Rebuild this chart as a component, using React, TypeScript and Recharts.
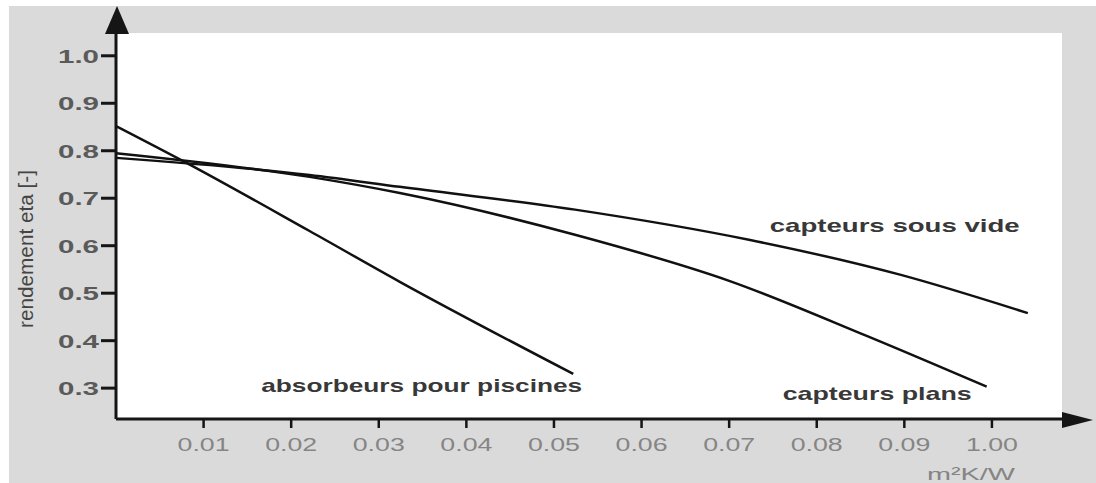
import React from "react";
import {
  LineChart,
  Line,
  XAxis,
  YAxis,
  CartesianGrid,
  ReferenceDot,
} from "recharts";

// axis ticks
const xTicks = [0.01, 0.02, 0.03, 0.04, 0.05, 0.06, 0.07, 0.08, 0.09, 0.1];
const xTickLabels = ["0.01", "0.02", "0.03", "0.04", "0.05", "0.06", "0.07", "0.08", "0.09", "1.00"];
const yTicks = [0.3, 0.4, 0.5, 0.6, 0.7, 0.8, 0.9, 1.0];
const yTickLabels = ["0.3", "0.4", "0.5", "0.6", "0.7", "0.8", "0.9", "1.0"];

// efficiency curves (x = m²K/W, y = rendement)
const absorbeurs = [
  { x: 0, y: 0.852 },
  { x: 0.0081, y: 0.774 },
  { x: 0.0221, y: 0.631 },
  { x: 0.0324, y: 0.524 },
  { x: 0.0522, y: 0.33 },
];
const capteursPlans = [
  { x: 0, y: 0.795 },
  { x: 0.0221, y: 0.745 },
  { x: 0.0324, y: 0.711 },
  { x: 0.0524, y: 0.623 },
  { x: 0.07, y: 0.526 },
  { x: 0.0857, y: 0.41 },
  { x: 0.0994, y: 0.303 },
];
const capteursSousVide = [
  { x: 0, y: 0.785 },
  { x: 0.0221, y: 0.749 },
  { x: 0.0324, y: 0.724 },
  { x: 0.0524, y: 0.676 },
  { x: 0.0724, y: 0.612 },
  { x: 0.0895, y: 0.539 },
  { x: 0.1041, y: 0.458 },
];

const curveNames = ["capteurs sous vide", "absorbeurs pour piscines", "capteurs plans"];
const curveLabelAt = [
  { x: 0.0889, y: 0.629 },
  { x: 0.0349, y: 0.292 },
  { x: 0.0869, y: 0.275 },
];
const curveLabelWidth = [250, 321, 189];

const FONT = "'Liberation Sans', Arial, Helvetica, sans-serif";

const XTick = (props: any) => {
  const { x, y, payload } = props;
  const i = xTicks.findIndex((t) => Math.abs(t - payload.value) < 1e-9);
  return (
    <text
      x={x}
      y={y}
      dy={21}
      textAnchor="middle"
      fontFamily={FONT}
      fontSize={19}
      fill="#858585"
      textLength={52}
      lengthAdjust="spacingAndGlyphs"
    >
      {xTickLabels[i]}
    </text>
  );
};

const YTick = (props: any) => {
  const { x, y, payload } = props;
  const i = yTicks.findIndex((t) => Math.abs(t - payload.value) < 1e-9);
  return (
    <text
      x={x}
      y={y}
      dy={7}
      textAnchor="end"
      fontFamily={FONT}
      fontSize={19}
      fontWeight="bold"
      fill="#5a5a5a"
      textLength={41}
      lengthAdjust="spacingAndGlyphs"
    >
      {yTickLabels[i]}
    </text>
  );
};

const curveLabel = (i: number) => (props: any) => {
  const vb = props.viewBox || {};
  const cx = vb.x + (vb.width || 0) / 2;
  const cy = vb.y + (vb.height || 0) / 2;
  return (
    <text
      x={cx}
      y={cy}
      textAnchor="middle"
      fontFamily={FONT}
      fontSize={19}
      fontWeight="bold"
      fill="#383838"
      textLength={curveLabelWidth[i]}
      lengthAdjust="spacingAndGlyphs"
    >
      {curveNames[i]}
    </text>
  );
};

export default function App() {
  return (
    <div
      style={{
        position: "absolute",
        left: 0,
        top: 0,
        width: 1096,
        height: 483,
        background: "#fff",
      }}
    >
      <div
        style={{
          position: "absolute",
          left: 9,
          top: 6,
          right: 0,
          bottom: 0,
          background: "#dadada",
        }}
      />
      <div style={{ position: "absolute", left: 0, top: 0 }}>
        <LineChart
          width={1096}
          height={483}
          margin={{ top: 33, right: 34, left: 16, bottom: 24 }}
        >
          <CartesianGrid horizontal={false} vertical={false} fill="#ffffff" />
          <XAxis
            type="number"
            dataKey="x"
            domain={[0, 0.108]}
            ticks={xTicks}
            tick={<XTick />}
            tickSize={9}
            height={40}
            allowDataOverflow
            axisLine={{ stroke: "#151515", strokeWidth: 3 }}
            tickLine={{ stroke: "#151515", strokeWidth: 2.5 }}
          />
          <YAxis
            type="number"
            dataKey="y"
            domain={[0.235, 1.048]}
            ticks={yTicks}
            tick={<YTick />}
            tickSize={15}
            width={100}
            allowDataOverflow
            axisLine={{ stroke: "#151515", strokeWidth: 3 }}
            tickLine={{ stroke: "#151515", strokeWidth: 3 }}
          />
          <Line
            data={absorbeurs}
            dataKey="y"
            type="monotone"
            stroke="#111"
            strokeWidth={2.5}
            dot={false}
            isAnimationActive={false}
          />
          <Line
            data={capteursPlans}
            dataKey="y"
            type="monotone"
            stroke="#111"
            strokeWidth={2.5}
            dot={false}
            isAnimationActive={false}
          />
          <Line
            data={capteursSousVide}
            dataKey="y"
            type="monotone"
            stroke="#111"
            strokeWidth={2.5}
            dot={false}
            isAnimationActive={false}
          />
          {curveLabelAt.map((p, i) => (
            <ReferenceDot
              key={curveNames[i]}
              x={p.x}
              y={p.y}
              r={1}
              fill="none"
              stroke="none"
              label={curveLabel(i)}
            />
          ))}
        </LineChart>
      </div>
      <svg
        width={1096}
        height={483}
        style={{ position: "absolute", left: 0, top: 0, pointerEvents: "none" }}
      >
        <polygon points="105,34 129,34 117,6" fill="#151515" />
        <polygon points="1062,412 1062,428 1093,420" fill="#151515" />
        <text
          transform="translate(33,249) rotate(-90)"
          textAnchor="middle"
          fontFamily={FONT}
          fontSize={20}
          fill="#444"
          textLength={158}
          lengthAdjust="spacingAndGlyphs"
        >
          rendement eta [-]
        </text>
        <text
          x={971}
          y={480}
          textAnchor="middle"
          fontFamily={FONT}
          fontSize={17}
          fill="#858585"
          textLength={88}
          lengthAdjust="spacingAndGlyphs"
        >
          m²K/W
        </text>
      </svg>
    </div>
  );
}
